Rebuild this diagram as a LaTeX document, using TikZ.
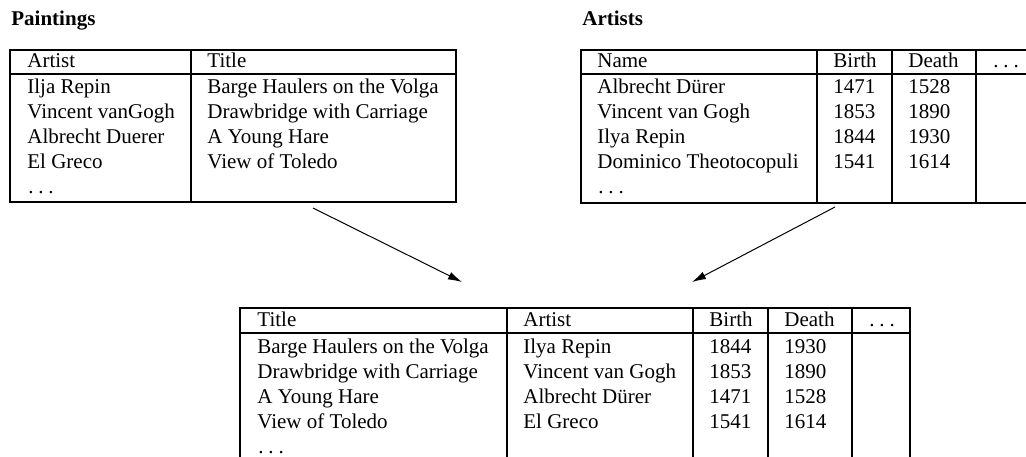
\documentclass[tikz,border=0pt]{standalone}
\usepackage{fontspec}
\setmainfont{Liberation Serif}
\usetikzlibrary{arrows.meta}
% three spaced periods, set like the classic text ellipsis
\newcommand{\spaceddots}{.\kern2.4pt.\kern2.4pt.}
\begin{document}
\begin{tikzpicture}[x=0.5pt,y=-0.5pt,
  cell/.style={anchor=base west, inner sep=0pt, font=\fontsize{10.5}{12.6}\selectfont},
  caption/.style={anchor=base west, inner sep=0pt, font=\fontsize{10.5}{12.6}\selectfont\bfseries},
  grid/.style={line width=1pt},
  link/.style={line width=0.5pt, -{Latex[length=7pt,width=4pt]}}]
\useasboundingbox (0,0) rectangle (1026,456);
\clip (0,0) rectangle (1026,456);

% ---------- Paintings ----------
\node[caption] (cap-p) at (11,25) {Paintings};
\draw[grid] (10,50) rectangle (456,202);
\draw[grid] (10,74) -- (456,74);
\draw[grid] (191,50) -- (191,202);
\node[cell] (p-h1) at (27,67) {Artist};
\node[cell] (p-h2) at (207,67) {Title};
\foreach \a/\b [count=\r] in {Ilja Repin/Barge Haulers on the Volga,
    Vincent vanGogh/Drawbridge with Carriage,
    Albrecht Duerer/A Young Hare,
    El Greco/View of Toledo} {
  \node[cell] (p-a\r) at (27,68+25*\r) {\a};
  \node[cell] (p-t\r) at (207,68+25*\r) {\b};
}
\node[cell] (p-dots) at (28,193) {\spaceddots};

% ---------- Artists ----------
\node[caption] (cap-a) at (582,25) {Artists};
\draw[grid] (581,50) rectangle (1034,203);
\draw[grid] (581,74) -- (1034,74);
\foreach \x in {817,892,976} \draw[grid] (\x,50) -- (\x,203);
\node[cell] (a-h1) at (597,67) {Name};
\node[cell] (a-h2) at (833,67) {Birth};
\node[cell] (a-h3) at (908,67) {Death};
\node[cell] (a-h4) at (993,67) {\spaceddots};
\foreach \n/\b/\d [count=\r] in {Albrecht Dürer/1471/1528,
    Vincent van Gogh/1853/1890,
    Ilya Repin/1844/1930,
    Dominico Theotocopuli/1541/1614} {
  \node[cell] (a-n\r) at (597,68+25*\r) {\n};
  \node[cell] (a-b\r) at (833,68+25*\r) {\b};
  \node[cell] (a-d\r) at (908,68+25*\r) {\d};
}
\node[cell] (a-dots) at (598,193) {\spaceddots};

% ---------- Joined result ----------
\draw[grid] (240,308) rectangle (910,464);
\draw[grid] (240,333) -- (910,333);
\foreach \x in {507,693,768,852} \draw[grid] (\x,308) -- (\x,464);
\node[cell] (j-h1) at (257,326) {Title};
\node[cell] (j-h2) at (523,326) {Artist};
\node[cell] (j-h3) at (709,326) {Birth};
\node[cell] (j-h4) at (784,326) {Death};
\node[cell] (j-h5) at (869,326) {\spaceddots};
\foreach \t/\a/\b/\d [count=\r] in {Barge Haulers on the Volga/Ilya Repin/1844/1930,
    Drawbridge with Carriage/Vincent van Gogh/1853/1890,
    A Young Hare/Albrecht Dürer/1471/1528,
    View of Toledo/El Greco/1541/1614} {
  \node[cell] (j-t\r) at (257,328+25*\r) {\t};
  \node[cell] (j-a\r) at (523,328+25*\r) {\a};
  \node[cell] (j-b\r) at (709,328+25*\r) {\b};
  \node[cell] (j-d\r) at (784,328+25*\r) {\d};
}
\node[cell] (j-dots) at (258,453) {\spaceddots};

% ---------- Arrows into the join ----------
\coordinate (p-out) at (313,208);
\coordinate (a-out) at (835,207);
\coordinate (j-inL) at (462,282);
\coordinate (j-inR) at (692,282);
\draw[link] (p-out) -- (j-inL);
\draw[link] (a-out) -- (j-inR);
\end{tikzpicture}
\end{document}
